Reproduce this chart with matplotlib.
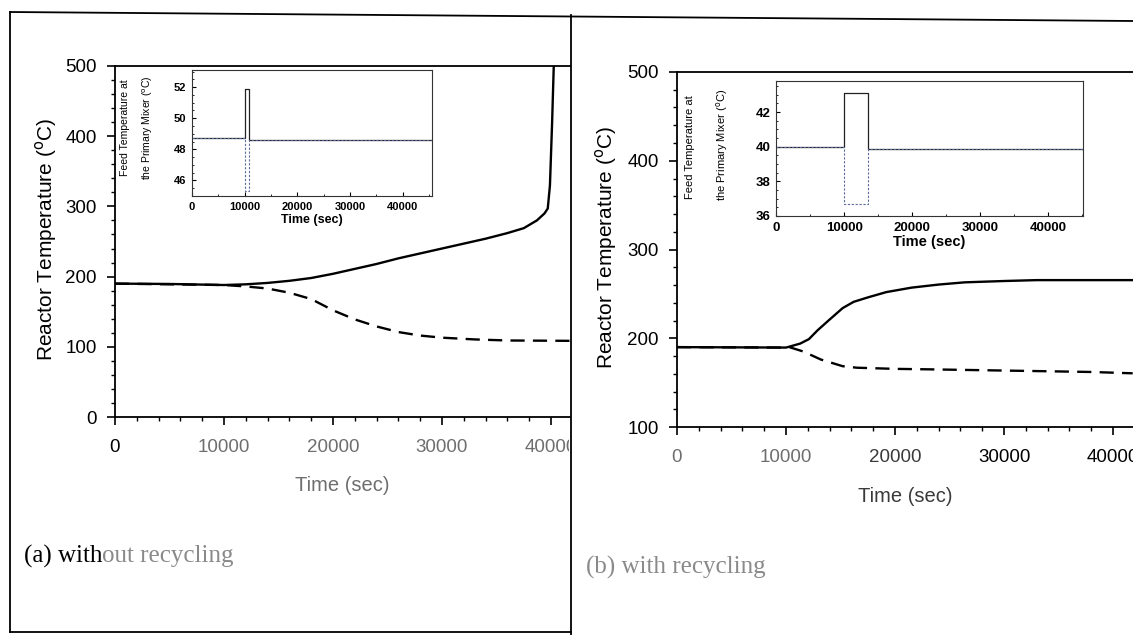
import matplotlib
matplotlib.use("Agg")
import matplotlib.pyplot as plt
from matplotlib.lines import Line2D
from matplotlib.ticker import MultipleLocator
from matplotlib.transforms import Bbox, TransformedBbox

plt.rcParams['font.family'] = ['Liberation Sans', 'DejaVu Sans']

# ---- data ----
# (a) without recycling
time_a_up = [0, 5000, 10000, 12000, 14000, 16000, 18000, 20000, 22000, 24000, 26000,
             28000, 30000, 32000, 34000, 36000, 37500, 38700, 39400, 39700, 39900, 40100, 40250]
temp_a_up = [190, 189.5, 188, 189, 191, 194, 198, 204, 211, 218, 226,
             233, 240, 247, 254, 262, 269, 280, 290, 297, 330, 420, 500]
time_a_down = [0, 10000, 12000, 14000, 16000, 18000, 20000, 22000, 24000, 26000,
               28000, 30000, 33000, 36000, 41700]
temp_a_down = [190, 188, 186, 183, 177, 168, 152, 139, 129, 121,
               116, 113, 110.5, 109, 108.5]

# (b) with recycling
time_b_up = [0, 10000, 10300, 11300, 12100, 12900, 13900, 15200, 16200, 17500, 19200,
             21500, 24000, 26400, 30000, 33000, 41800]
temp_b_up = [190, 189.5, 190.5, 194, 199, 209, 220, 234, 241, 246, 252,
             257, 260.5, 263, 264.5, 265.5, 265.5]
time_b_down = [0, 10000, 10300, 11600, 13200, 15200, 16500, 20000, 23000, 28000,
               33000, 38000, 41800]
temp_b_down = [190, 189.5, 190, 185, 176, 168.5, 166.8, 165.5, 165, 164,
               163, 162, 160.5]

# inset: feed temperature step changes
feed_time_a = [0, 10000, 10900, 45500]
feed_a_up = [48.7, 51.9, 48.6, 48.6]
feed_a_down = [48.7, 45.3, 48.6, 48.6]
feed_time_b = [0, 10000, 13500, 45100]
feed_b_up = [40.0, 43.1, 39.85, 39.8]
feed_b_down = [40.0, 36.7, 39.85, 39.85]

W, H = 1133, 635
fig = plt.figure(figsize=(W / 100, H / 100), dpi=100)
fig.patch.set_facecolor('white')


def box(left, top, right, bottom):
    return [left / W, 1 - bottom / H, (right - left) / W, (bottom - top) / H]


def fx(x):
    return x / W


def fy(y):
    return 1 - y / H


GREY = '#6e6e6e'
CAP_GREY = '#8a8a8a'
ylab = 'Reactor Temperature ($^{\\rm o}$C)'
inset_lab1 = 'Feed Temperature at'
inset_lab2 = 'the Primary Mixer ($^{\\rm o}$C)'


def main_axes(ax, xmax, ymin, xcolors, clip_right):
    ax.set_xlim(0, xmax)
    ax.set_ylim(ymin, 500)
    ax.xaxis.set_major_locator(MultipleLocator(10000))
    ax.xaxis.set_minor_locator(MultipleLocator(2000))
    ax.yaxis.set_major_locator(MultipleLocator(100))
    ax.yaxis.set_minor_locator(MultipleLocator(20))
    ax.tick_params(which='major', direction='out', length=6, width=1.2, labelsize=13.5, pad=10)
    ax.tick_params(which='minor', direction='out', length=3, width=1)
    ax.tick_params(axis='y', which='major', pad=7)
    ax.spines['right'].set_visible(False)
    for s in ('left', 'bottom', 'top'):
        ax.spines[s].set_linewidth(1.3)
    ax.set_xticks(range(0, 50000, 10000))
    ax.set_xticklabels(['0', '10000', '20000', '30000', '40000'])
    # the scan cuts the last tick label at the panel edge
    clip = TransformedBbox(Bbox([[0, 0], [fx(clip_right), 1]]), fig.transFigure)
    for lab, c in zip(ax.get_xticklabels(), xcolors):
        lab.set_color(c)
        lab.set_clip_box(clip)
        lab.set_clip_on(True)


def inset_axes(ax, xmax, ylim, fs):
    ax.set_xlim(0, xmax)
    ax.set_ylim(*ylim)
    ax.xaxis.set_major_locator(MultipleLocator(10000))
    ax.xaxis.set_minor_locator(MultipleLocator(5000))
    ax.yaxis.set_major_locator(MultipleLocator(2))
    ax.yaxis.set_minor_locator(MultipleLocator(0.5))
    ax.tick_params(which='major', direction='in', length=3, width=0.8, labelsize=fs, pad=4)
    ax.tick_params(which='minor', direction='in', length=1.5, width=0.6)
    for lab in ax.get_xticklabels() + ax.get_yticklabels():
        lab.set_fontweight('bold')
    for s in ax.spines.values():
        s.set_linewidth(0.8)
        s.set_color('#333333')


# ---- panel (a) ----
ax_a = fig.add_axes(box(115, 66, 570, 417))
ax_a.plot(time_a_up, temp_a_up, color='black', lw=1.7)
ax_a.plot(time_a_down, temp_a_down, color='black', lw=1.7, dashes=(6, 3.5))
main_axes(ax_a, 41740, 0, ['black', GREY, GREY, GREY, GREY], 569)
ax_a.set_xlabel('Time (sec)', fontsize=14.5, color=GREY, labelpad=14)
fig.text(fx(46), fy(239), ylab, rotation=90, fontsize=15, ha='center', va='center')

ins_a = fig.add_axes(box(192, 70, 432, 196))
ins_a.plot(feed_time_a, feed_a_up, drawstyle='steps-post', color='#222222', lw=0.9)
ins_a.plot(feed_time_a, feed_a_down, drawstyle='steps-post', color='#5a6a9a', lw=0.8,
           dashes=(2, 1.5))
inset_axes(ins_a, 45600, (45, 53.1), 8)
ins_a.set_xlabel('Time (sec)', fontsize=9, fontweight='bold', labelpad=2)
fig.text(fx(125), fy(128), inset_lab1, rotation=90, fontsize=7.5, ha='center', va='center')
fig.text(fx(148), fy(128), inset_lab2, rotation=90, fontsize=7.5, ha='center', va='center')

cap_a = fig.text(fx(24), fy(556), '(a) with', family='Liberation Serif', fontsize=18,
                 ha='left', va='center')
ax_a.annotate('out recycling', xy=(1, 0.5), xycoords=cap_a, ha='left', va='center',
              family='Liberation Serif', fontsize=18, color=CAP_GREY,
              annotation_clip=False)

# ---- panel (b) ----
ax_b = fig.add_axes(box(677, 72, 1133, 427))
ax_b.plot(time_b_up, temp_b_up, color='black', lw=1.7)
ax_b.plot(time_b_down, temp_b_down, color='black', lw=1.7, dashes=(6, 3.5))
main_axes(ax_b, 41830, 100, [GREY, GREY, '#3a3a3a', 'black', 'black'], 1133)
ax_b.set_xlabel('Time (sec)', fontsize=14.5, color='#3a3a3a', labelpad=15)
fig.text(fx(606), fy(247), ylab, rotation=90, fontsize=15, ha='center', va='center')

ins_b = fig.add_axes(box(776, 81, 1083, 216))
ins_b.plot(feed_time_b, feed_b_up, drawstyle='steps-post', color='#222222', lw=0.9)
ins_b.plot(feed_time_b, feed_b_down, drawstyle='steps-post', color='#5a6a9a', lw=0.8,
           dashes=(2, 1.5))
inset_axes(ins_b, 45100, (36, 43.8), 9.5)
ins_b.set_xlabel('Time (sec)', fontsize=10.5, fontweight='bold', labelpad=1)
fig.text(fx(690), fy(147), inset_lab1, rotation=90, fontsize=8, ha='center', va='center')
fig.text(fx(722), fy(145), inset_lab2, rotation=90, fontsize=8, ha='center', va='center')

fig.text(fx(586), fy(567), '(b) with recycling', family='Liberation Serif', fontsize=18,
         ha='left', va='center', color=CAP_GREY)

# ---- page frame of the scan ----
frame = [((10, 12), (1133, 21)), ((10, 12), (10, 632)), ((10, 632), (571, 632)),
         ((571, 15), (571, 635))]
for (x0, y0), (x1, y1) in frame:
    fig.add_artist(Line2D([fx(x0), fx(x1)], [fy(y0), fy(y1)], color='black', lw=1.3))

fig.savefig('out.png', dpi=100)
